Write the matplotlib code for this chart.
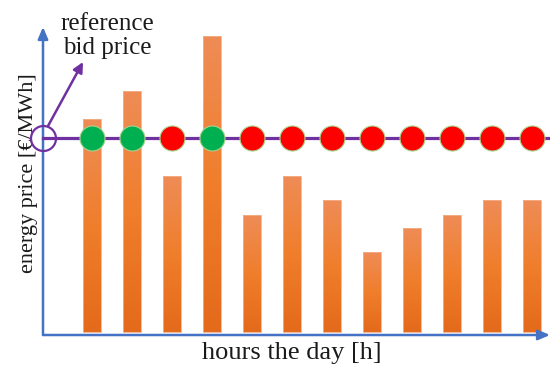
import matplotlib
matplotlib.use("Agg")
import matplotlib.pyplot as plt
import numpy as np
from matplotlib.colors import LinearSegmentedColormap

# data (price units in arbitrary scale)
hours = [1, 2, 3, 4, 5, 6, 7, 8, 9, 10, 11, 12]
prices = [213, 241, 156, 296, 117, 156, 132, 80, 104, 117, 132, 132]
reference_price = 194
x_label = "hours the day [h]"
y_label = "energy price [€/MWh]"
annot_text = "reference\nbid price"

plt.rcParams['font.family'] = ['Liberation Serif', 'DejaVu Serif']

fig = plt.figure(figsize=(5.5, 3.65), dpi=100)
ax = fig.add_axes([0, 0, 1, 1])
ax.set_xlim(-1.3, 12.45)
ax.set_ylim(-33, 332)
ax.axis('off')

grad_cmap = LinearSegmentedColormap.from_list('og', ['#E46A1C', '#F07E2C', '#EE8C56'])
bars = ax.bar(hours, prices, width=0.45, color='none', edgecolor='#F6B08A', linewidth=0.6, zorder=2)
grad = np.linspace(0, 1, 100).reshape(-1, 1)
for b in bars:
    x, y = b.get_x(), b.get_y()
    w, hgt = b.get_width(), b.get_height()
    im = ax.imshow(grad, cmap=grad_cmap, origin='lower', aspect='auto',
                   extent=(x, x + w, y, y + hgt), zorder=1.9)
    im.set_clip_path(b)
ax.set_xlim(-1.3, 12.45)
ax.set_ylim(-33, 332)

x0 = -0.225
axis_blue = '#4472C4'
# y axis with arrow
ax.annotate('', xy=(x0, 305), xytext=(x0, -3),
            arrowprops=dict(arrowstyle='-|>,head_length=0.7,head_width=0.3', color=axis_blue, lw=1.8,
                            shrinkA=0, shrinkB=0), zorder=3)
# x axis with arrow
ax.annotate('', xy=(12.45, -3), xytext=(x0, -3),
            arrowprops=dict(arrowstyle='-|>,head_length=0.7,head_width=0.3', color=axis_blue, lw=1.8,
                            shrinkA=0, shrinkB=0), zorder=3)

purple = '#7030A0'
ax.plot([x0, 12.45], [reference_price, reference_price], color=purple, lw=2.3, zorder=3)

for h, p in zip(hours, prices):
    c = '#00B050' if p > reference_price else '#FF0000'
    ax.plot(h, reference_price, 'o', markersize=18, markerfacecolor=c,
            markeredgecolor='#A9D18E', markeredgewidth=0.8, zorder=4)

ax.plot(x0, reference_price, 'o', markersize=18, markerfacecolor='none',
        markeredgecolor=purple, markeredgewidth=1.6, zorder=4)

ax.annotate('', xy=(0.775, 270), xytext=(-0.1, 206),
            arrowprops=dict(arrowstyle='-|>,head_length=0.6,head_width=0.3', color=purple, lw=1.8,
                            shrinkA=0, shrinkB=0), zorder=5)

ax.text(1.375, 319, annot_text, fontsize=18, ha='center', va='top', linespacing=1.1, color='#1a1a1a')

ax.text(-0.575, 159, y_label, fontsize=16, rotation=90, ha='center', va='center', color='#1a1a1a')
ax.text(6.0, -21, x_label, fontsize=19, ha='center', va='center', color='#1a1a1a')

fig.savefig('out.png', dpi=100)
